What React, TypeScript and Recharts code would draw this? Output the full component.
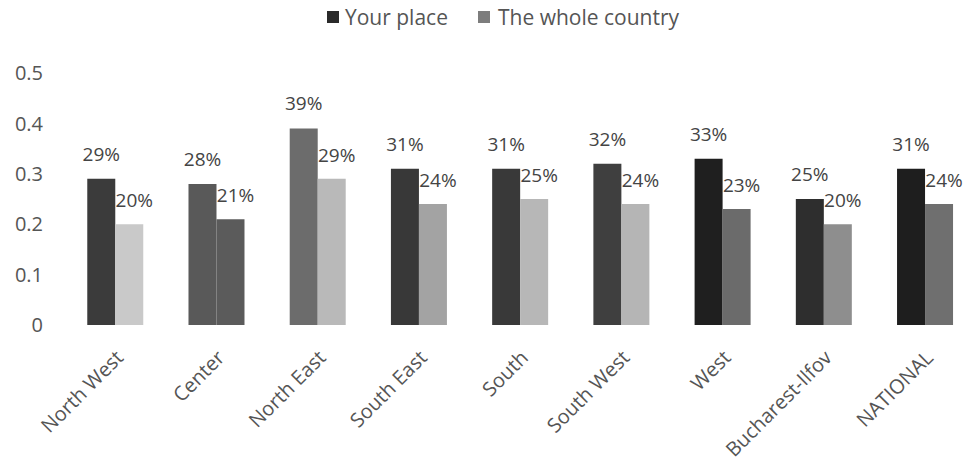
import React from 'react';
import { BarChart, Bar, XAxis, YAxis, LabelList, Cell } from 'recharts';

const regions = ['North West', 'Center', 'North East', 'South East', 'South', 'South West', 'West', 'Bucharest-Ilfov', 'NATIONAL'];
const yourPlace = [0.29, 0.28, 0.39, 0.31, 0.31, 0.32, 0.33, 0.25, 0.31];
const wholeCountry = [0.2, 0.21, 0.29, 0.24, 0.25, 0.24, 0.23, 0.2, 0.24];
const yTicks = [0, 0.1, 0.2, 0.3, 0.4, 0.5];

// per-region shading, the source is a scanned greyscale figure
const yourColors = ['#3b3b3b', '#595959', '#6c6c6c', '#383838', '#393939', '#3f3f3f', '#1f1f1f', '#2e2e2e', '#1e1e1e'];
const wholeColors = ['#c9c9c9', '#5b5b5b', '#b9b9b9', '#a3a3a3', '#b7b7b7', '#b5b5b5', '#6b6b6b', '#8e8e8e', '#6f6f6f'];

const data = regions.map((name, i) => ({ name, your: yourPlace[i], whole: wholeCountry[i] }));

const FONT = '"Open Sans", sans-serif';
const pct = (v: number) => `${Math.round(v * 100)}%`;

const makeLabel = (dx: number, lift: number) => (props: any) => {
  const { x, y, width, value } = props;
  return (
    <text x={x + width / 2 + dx} y={y - lift} textAnchor="middle" fill="#444" fontSize={19} fontFamily={FONT}>
      {pct(value)}
    </text>
  );
};

const RegionTick = (props: any) => {
  const { x, y, payload } = props;
  const tx = x + 9;
  const ty = y + 26;
  return (
    <text x={tx} y={ty} transform={`rotate(-45, ${tx}, ${ty})`} textAnchor="end" fill="#555" fontSize={20} fontFamily={FONT}>
      {payload.value}
    </text>
  );
};

const LegendBox = () => (
  <div
    style={{
      position: 'absolute', top: 3, left: 0, width: 966,
      display: 'flex', justifyContent: 'center', alignItems: 'center',
      fontFamily: FONT, fontSize: 21, color: '#555', paddingLeft: 40, boxSizing: 'border-box',
    }}
  >
    <span style={{ width: 12, height: 12, background: '#2a2a2a', display: 'inline-block', marginRight: 6 }} />
    <span style={{ marginRight: 30 }}>Your place</span>
    <span style={{ width: 12, height: 12, background: '#7d7d7d', display: 'inline-block', marginRight: 8 }} />
    <span>The whole country</span>
  </div>
);

export default function App() {
  return (
    <div style={{ width: 966, height: 465, background: '#fff', position: 'absolute', left: 0, top: 0, overflow: 'hidden' }}>
      <BarChart
        width={966}
        height={465}
        data={data}
        margin={{ top: 73, right: -10, bottom: 100, left: 0 }}
        barCategoryGap="22%"
        barGap={0}
      >
        <XAxis dataKey="name" axisLine={false} tickLine={false} interval={0} tick={<RegionTick />} height={40} />
        <YAxis
          domain={[0, 0.5]}
          ticks={yTicks}
          width={65}
          axisLine={false}
          tickLine={false}
          tickMargin={16}
          tick={{ fill: '#555', fontSize: 20, fontFamily: FONT }}
        />
        <Bar dataKey="your" isAnimationActive={false}>
          {data.map((_, i) => (
            <Cell key={i} fill={yourColors[i]} />
          ))}
          <LabelList dataKey="your" content={makeLabel(0, 18)} />
        </Bar>
        <Bar dataKey="whole" isAnimationActive={false}>
          {data.map((_, i) => (
            <Cell key={i} fill={wholeColors[i]} />
          ))}
          <LabelList dataKey="whole" content={makeLabel(5, 17)} />
        </Bar>
      </BarChart>
      <LegendBox />
    </div>
  );
}
